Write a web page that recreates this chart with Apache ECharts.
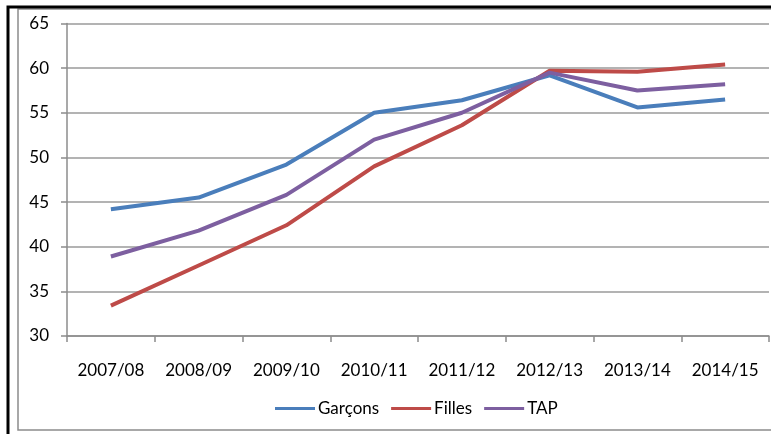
<!DOCTYPE html>
<html>
<head>
<meta charset="utf-8">
<script src="https://cdn.jsdelivr.net/npm/echarts@6/dist/echarts.min.js"></script>
<style>
    html, body {
        margin: 0;
        padding: 0;
        background: #fff;
    }

    #chart {
        width: 771px;
        height: 434px;
    }
</style>
</head>
<body>
<div id="chart"></div>
<script>
const categories = ['2007/08', '2008/09', '2009/10', '2010/11', '2011/12', '2012/13', '2013/14', '2014/15'];
const garcons = [44.2, 45.5, 49.2, 55.0, 56.4, 59.2, 55.6, 56.5];
const filles = [33.4, 37.9, 42.4, 49.0, 53.6, 59.7, 59.6, 60.4];
const tap = [38.9, 41.8, 45.8, 52.0, 55.0, 59.5, 57.5, 58.2];
const yTicks = [30, 35, 40, 45, 50, 55, 60, 65];

const chart = echarts.init(document.getElementById('chart'));

const font = 'Lato, "Liberation Sans", sans-serif';

function lineSeries(name, data, color) {
    return {
        name: name,
        type: 'line',
        data: data,
        symbol: 'none',
        lineStyle: { color: color, width: 4 },
        itemStyle: { color: color }
    };
}

const option = {
    backgroundColor: '#fff',
    animation: false,
    // cadres autour du graphique
    graphic: [
        {
            type: 'rect',
            shape: { x: 18, y: 9, width: 760, height: 421 },
            style: { fill: 'none', stroke: '#8c8c8c', lineWidth: 1.5 },
            silent: true
        },
        {
            type: 'polyline',
            shape: { points: [[8, 440], [8, 7], [780, 7]] },
            style: { fill: 'none', stroke: '#000', lineWidth: 3 },
            silent: true
        }
    ],
    grid: {
        left: 67,
        right: 2,
        top: 23.5,
        bottom: 98,
        containLabel: false
    },
    legend: {
        bottom: 12,
        left: 270,
        itemWidth: 40,
        itemHeight: 3,
        itemGap: 12,
        icon: 'rect',
        textStyle: { fontFamily: font, fontSize: 17, color: '#000', padding: [0, 0, 0, -2] },
        data: ['Garçons', 'Filles', 'TAP']
    },
    xAxis: {
        type: 'category',
        data: categories,
        boundaryGap: true,
        axisLine: { show: true, lineStyle: { color: '#8c8c8c', width: 1.5 } },
        axisTick: { show: true, length: 6, lineStyle: { color: '#8c8c8c', width: 1.5 } },
        axisLabel: { fontFamily: font, fontSize: 17, color: '#000', margin: 26 }
    },
    yAxis: {
        type: 'value',
        min: yTicks[0],
        max: yTicks[yTicks.length - 1],
        interval: 5,
        axisLine: { show: true, lineStyle: { color: '#8c8c8c', width: 1.5 } },
        axisTick: { show: true, length: 6, lineStyle: { color: '#8c8c8c', width: 1.5 } },
        axisLabel: { fontFamily: font, fontSize: 17, color: '#000', margin: 18 },
        splitLine: { show: true, lineStyle: { color: '#9a9a9a', width: 1.5 } }
    },
    series: [
        lineSeries('Garçons', garcons, '#4a7ebb'),
        lineSeries('Filles', filles, '#be4b48'),
        lineSeries('TAP', tap, '#7d5fa0')
    ]
};

chart.setOption(option);
</script>
</body>
</html>
